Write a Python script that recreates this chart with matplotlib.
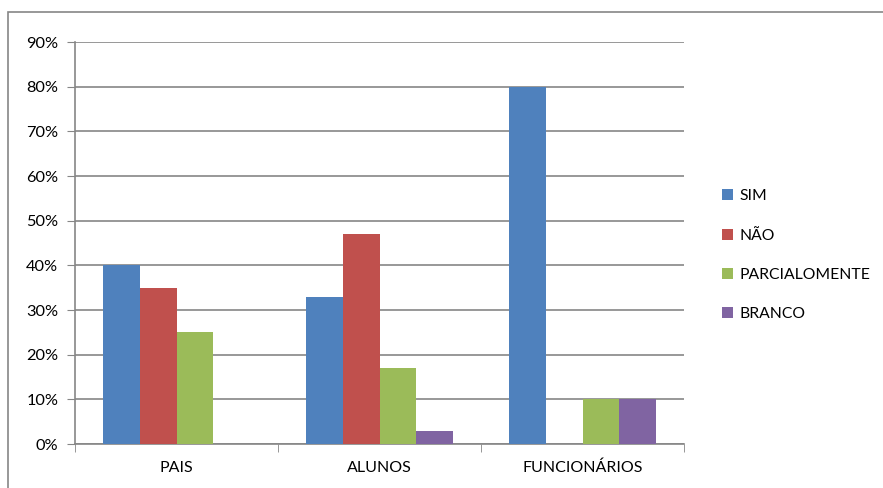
import matplotlib.pyplot as plt
import matplotlib.patches as mpatches
import numpy as np

categories = ["PAIS", "ALUNOS", "FUNCIONÁRIOS"]
series_names = ["SIM", "NÃO", "PARCIALOMENTE", "BRANCO"]
sim = [40, 33, 80]
nao = [35, 47, 0]
parcial = [25, 17, 10]
branco = [0, 3, 10]
colors = ["#4F81BD", "#C0504D", "#9BBB59", "#8064A2"]

plt.rcParams['font.family'] = ['Lato', 'DejaVu Sans']
W, H = 883, 488
fig = plt.figure(figsize=(W / 100, H / 100), dpi=100)
ax = fig.add_axes([75 / W, 1 - 444 / H, (684 - 75) / W, (444 - 42) / H])

# chart border (right and bottom edges lie outside the image)
fig.patches.append(mpatches.Rectangle((8 / W, -0.1), 1.2, 1 - 12 / H + 0.1,
                                      transform=fig.transFigure, fill=False,
                                      edgecolor="#868686", linewidth=1.2))

x = np.arange(len(categories))
w = 0.18
all_series = [sim, nao, parcial, branco]
for i, (vals, name) in enumerate(zip(all_series, series_names)):
    ax.bar(x + (i - 1.5) * w, vals, w, color=colors[i], label=name, zorder=3)

ax.set_xlim(-0.5, 2.5)
ax.set_ylim(0, 90)
ax.set_yticks(range(0, 91, 10))
ax.set_yticklabels([f"{v}%" for v in range(0, 91, 10)], fontsize=11.8)
ax.yaxis.grid(True, color="#868686", linewidth=1.2, zorder=0)
ax.tick_params(axis='y', length=6, color="#868686", pad=6)

ax.set_xticks(x)
ax.set_xticklabels(categories, fontsize=11.5)
ax.tick_params(axis='x', length=0, pad=12)
ax.set_xticks([-0.5, 0.5, 1.5, 2.5], minor=True)
ax.tick_params(axis='x', which='minor', length=6, color="#868686")

for s in ['top', 'right']:
    ax.spines[s].set_visible(False)
for s in ['left', 'bottom']:
    ax.spines[s].set_color("#868686")
    ax.spines[s].set_linewidth(1.2)

ax.legend(loc='center left', bbox_to_anchor=(1.04, 0.47), frameon=False,
          fontsize=11.3, handlelength=0.7, handleheight=0.7, handletextpad=0.4,
          labelspacing=1.6)

fig.savefig("out.png", dpi=100)
